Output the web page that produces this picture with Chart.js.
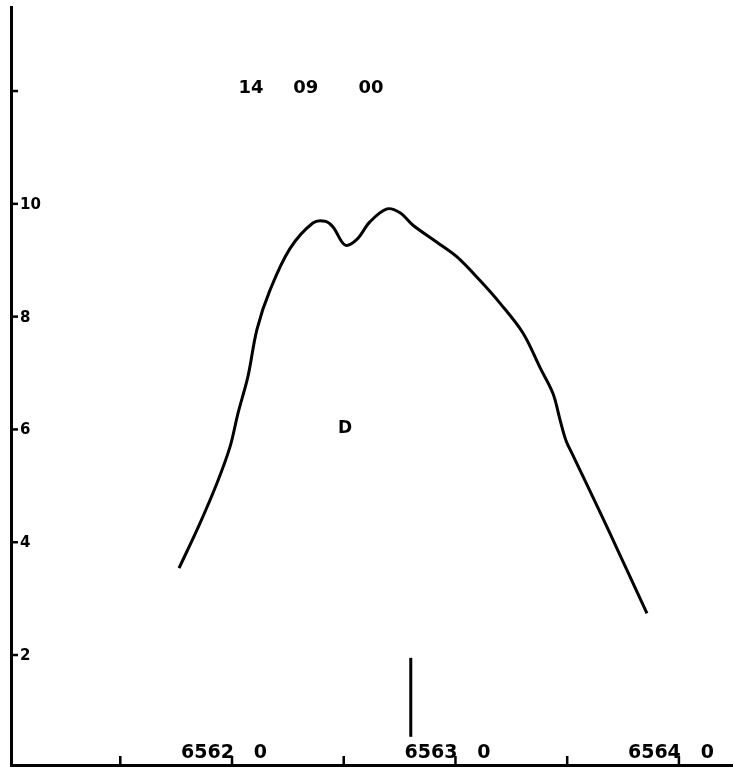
<!DOCTYPE html>
<html lang="en">
<head>
    <meta charset="UTF-8">
    <title>H-alpha profile</title>
    <script src="https://cdn.jsdelivr.net/npm/chart.js"></script>
    <style>
        html, body { margin: 0; padding: 0; background: #fff; }
        #wrap { width: 733px; height: 773px; position: relative; }
    </style>
</head>
<body>
    <div id="wrap"><canvas id="profileChart"></canvas></div>
    <script>
        // Values
        const wavelength = [6561.763, 6561.857, 6561.933, 6561.991, 6562.027, 6562.072, 6562.112, 6562.170,
            6562.260, 6562.362, 6562.416, 6562.452, 6562.506, 6562.559, 6562.617, 6562.694, 6562.752,
            6562.810, 6562.917, 6563.007, 6563.110, 6563.199, 6563.302, 6563.378, 6563.436, 6563.468,
            6563.494, 6563.521, 6563.615, 6563.691, 6563.767, 6563.857];
        const intensity = [3.54, 4.34, 5.05, 5.69, 6.29, 6.95, 7.78, 8.47,
            9.21, 9.66, 9.69, 9.59, 9.27, 9.37, 9.68, 9.91, 9.84,
            9.62, 9.32, 9.06, 8.64, 8.24, 7.71, 7.10, 6.64, 6.17,
            5.81, 5.58, 4.80, 4.16, 3.51, 2.74];

        // rest-wavelength marker
        const markerX = [6562.8, 6562.8];
        const markerY = [0.55, 1.95];

        const yTicks = [2, 4, 6, 8, 10, 12];
        const yLabels = ['2', '4', '6', '8', '10', ''];
        const xTicks = [6561.5, 6562.0, 6562.5, 6563.0, 6563.5, 6564.0];
        const xLabels = ['', '6562   0', '', '6563   0', '', '6564   0'];

        const timeParts = ['14', '09', '00'];
        const timeX = [6562.085, 6562.330, 6562.622];
        const timeY = 12.05;
        const panelLabel = 'D';

        const profilePoints = wavelength.map((w, i) => ({ x: w, y: intensity[i] }));
        const markerPoints = markerX.map((w, i) => ({ x: w, y: markerY[i] }));

        const labelFont = '"DejaVu Sans", sans-serif';

        // ticks inside the axes + text, drawn from the chart scales
        const decorations = {
            id: 'decorations',
            afterDraw(chart) {
                const ctx = chart.ctx;
                const xs = chart.scales.x;
                const ys = chart.scales.y;
                const area = chart.chartArea;
                ctx.save();
                ctx.strokeStyle = '#000';
                ctx.fillStyle = '#000';
                ctx.lineWidth = 2.5;

                yTicks.forEach((v, i) => {
                    const py = ys.getPixelForValue(v);
                    ctx.beginPath();
                    ctx.moveTo(area.left, py);
                    ctx.lineTo(area.left + 7, py);
                    ctx.stroke();
                    if (yLabels[i]) {
                        ctx.font = 'bold 15px ' + labelFont;
                        ctx.textAlign = 'left';
                        ctx.textBaseline = 'middle';
                        ctx.fillText(yLabels[i], area.left + 9, py + 1);
                    }
                });

                xTicks.forEach((v, i) => {
                    const px = xs.getPixelForValue(v);
                    ctx.beginPath();
                    ctx.moveTo(px, area.bottom);
                    ctx.lineTo(px, area.bottom - 9);
                    ctx.stroke();
                    if (xLabels[i]) {
                        ctx.font = 'bold 19px ' + labelFont;
                        ctx.textAlign = 'center';
                        ctx.textBaseline = 'alphabetic';
                        ctx.fillText(xLabels[i], px - 8, area.bottom - 7);
                    }
                });

                ctx.font = 'bold 18px ' + labelFont;
                ctx.textAlign = 'center';
                ctx.textBaseline = 'middle';
                timeParts.forEach((t, i) => {
                    ctx.fillText(t, xs.getPixelForValue(timeX[i]), ys.getPixelForValue(timeY));
                });
                ctx.font = 'bold 17px ' + labelFont;
                ctx.fillText(panelLabel, xs.getPixelForValue(6562.506), ys.getPixelForValue(6.02));
                ctx.restore();
            }
        };

        new Chart(document.getElementById('profileChart'), {
            type: 'scatter',
            data: {
                datasets: [{
                    data: profilePoints,
                    showLine: true,
                    borderColor: '#000',
                    borderWidth: 3,
                    pointRadius: 0,
                    tension: 0.35,
                    fill: false
                }, {
                    data: markerPoints,
                    showLine: true,
                    borderColor: '#000',
                    borderWidth: 3,
                    pointRadius: 0
                }]
            },
            options: {
                responsive: true,
                maintainAspectRatio: false,
                animation: false,
                layout: { padding: { left: 11, top: 7, right: 0, bottom: 8 } },
                plugins: { legend: { display: false }, tooltip: { enabled: false } },
                scales: {
                    x: {
                        type: 'linear',
                        min: 6561.011,
                        max: 6564.242,
                        ticks: { display: false },
                        grid: { display: false, drawTicks: false },
                        border: { display: true, color: '#000', width: 3 }
                    },
                    y: {
                        type: 'linear',
                        min: 0.05,
                        max: 13.49,
                        ticks: { display: false },
                        grid: { display: false, drawTicks: false },
                        border: { display: true, color: '#000', width: 3 }
                    }
                }
            },
            plugins: [decorations]
        });
    </script>
</body>
</html>
